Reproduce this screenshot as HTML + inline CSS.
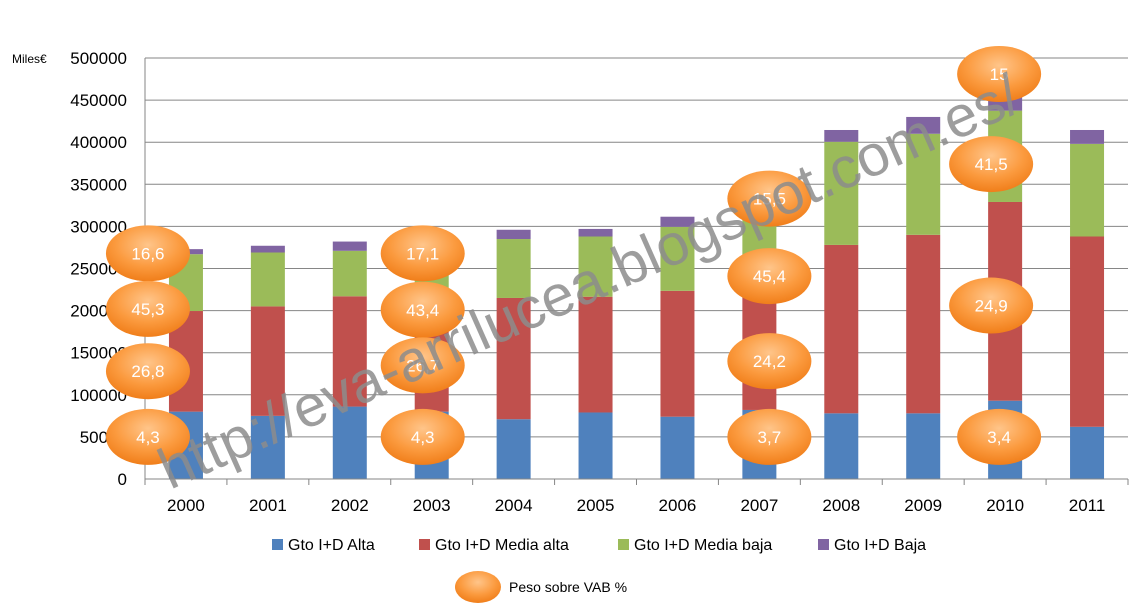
<!DOCTYPE html>
<html><head><meta charset="utf-8"><style>
body{margin:0;background:#fff;}
svg{display:block;font-family:"Liberation Sans","DejaVu Sans",sans-serif;}
</style></head><body>
<svg id="chart" width="1146" height="609" viewBox="0 0 1146 609">
<defs>
<radialGradient id="og" cx="50%" cy="35%" r="65%">
<stop offset="0%" stop-color="#ffc58a"/><stop offset="60%" stop-color="#fb9a3e"/><stop offset="100%" stop-color="#f07e1a"/>
</radialGradient>
</defs>
<g id="grid"></g>
<g id="bars"></g>
<g id="axes"></g>
<g id="bubbles"></g>
<text x="12" y="63" font-size="12" fill="#000">Miles€</text>
<g>
<rect x="272" y="539" width="11" height="11" fill="#4f81bd"/>
<text x="288" y="550" font-size="16">Gto I+D Alta</text>
<rect x="419" y="539" width="11" height="11" fill="#c0504d"/>
<text x="435" y="550" font-size="16">Gto I+D Media alta</text>
<rect x="618" y="539" width="11" height="11" fill="#9bbb59"/>
<text x="634" y="550" font-size="16">Gto I+D Media baja</text>
<rect x="818" y="539" width="11" height="11" fill="#8064a2"/>
<text x="834" y="550" font-size="16">Gto I+D Baja</text>
<ellipse cx="478" cy="587" rx="23" ry="16" fill="url(#og)"/>
<text x="509" y="592" font-size="14">Peso sobre VAB %</text>
</g>
<text x="0" y="0" font-size="58" fill="#8c8c8c" fill-opacity="0.85" transform="translate(170,490) rotate(-24)">http://eva-arrilucea.blogspot.com.es/</text>
</svg>
<script>
const years=['2000','2001','2002','2003','2004','2005','2006','2007','2008','2009','2010','2011'];
const alta=[80000,75000,86000,80000,71000,79000,74000,82000,78000,78000,93000,62000];
const mediaAlta=[119500,130000,131000,130000,144000,137500,149500,148000,200000,212000,236000,226000];
const mediaBaja=[67500,64000,54000,55000,70000,71500,76000,80000,122500,120000,108500,110000];
const baja=[6000,8000,11000,10000,11000,9000,12000,12000,14000,20000,16500,16500];
const yTicks=[0,50000,100000,150000,200000,250000,300000,350000,400000,450000,500000];
const bubbleYears=['2000','2003','2007','2010'];
const bubbleLabels=[['16,6','45,3','26,8','4,3'],['17,1','43,4','26,7','4,3'],['15,5','45,4','24,2','3,7'],['15','41,5','24,9','3,4']];
const bubbleVals=[[268000,202000,128000,50000],[268000,201000,135000,50000],[333000,241000,140000,50000],[481000,374000,206000,50000]];
const bubbleDx=[[-38,-38,-38,-38],[-9,-9,-9,-9],[10,10,10,10],[-6,-14,-14,-6]];
const NS='http://www.w3.org/2000/svg';
const L=145,R=1128,T=58,B=479,maxV=500000;
const step=(R-L)/years.length;
const x=i=>L+step*(i+0.5);
const y=v=>B-(v/maxV)*(B-T);
function mk(tag,attrs,parent){const e=document.createElementNS(NS,tag);for(const k in attrs)e.setAttribute(k,attrs[k]);parent.appendChild(e);return e;}
const grid=document.getElementById('grid'),bars=document.getElementById('bars'),axes=document.getElementById('axes'),bub=document.getElementById('bubbles');
yTicks.forEach(t=>{
  if(t>0){const g=mk('line',{x1:L,x2:R,y1:y(t),y2:y(t),stroke:'#868686','stroke-width':1},grid);
  
  }
  const tx=mk('text',{x:L-18,y:y(t)+6,'text-anchor':'end','font-size':17},axes);
  tx.textContent=t;
  
  
});
mk('line',{x1:L,x2:L,y1:T,y2:B,stroke:'#868686'},axes);
mk('line',{x1:L,x2:R,y1:B,y2:B,stroke:'#868686'},axes);
for(let i=0;i<=years.length;i++){mk('line',{x1:L+step*i,x2:L+step*i,y1:B,y2:B+6,stroke:'#868686'},axes);}
const series=[[alta,'#4f81bd','alta'],[mediaAlta,'#c0504d','media-alta'],[mediaBaja,'#9bbb59','media-baja'],[baja,'#8064a2','baja']];
const bw=34;
years.forEach((yr,i)=>{
  let acc=0;
  series.forEach(([arr,col,nm])=>{
    const r=mk('rect',{x:x(i)-bw/2,y:y(acc+arr[i]),width:bw,height:y(acc)-y(acc+arr[i]),fill:col},bars);
    
    
    acc+=arr[i];
  });
  const t=mk('text',{x:x(i),y:B+32,'text-anchor':'middle','font-size':17},axes);
  t.textContent=yr;
  
  
});
bubbleYears.forEach((yr,bi)=>{
  const i=years.indexOf(yr);
  bubbleLabels[bi].forEach((lab,k)=>{
    const cx=x(i)+bubbleDx[bi][k],cy=y(bubbleVals[bi][k]);
    const e=mk('ellipse',{cx:cx,cy:cy,rx:42,ry:28,fill:'url(#og)'},bub);
    
    
    const t=mk('text',{x:cx,y:cy+6,'text-anchor':'middle','font-size':17,fill:'#fff'},bub);
    t.textContent=lab;
    
    
  });
});
</script>
</body></html>
